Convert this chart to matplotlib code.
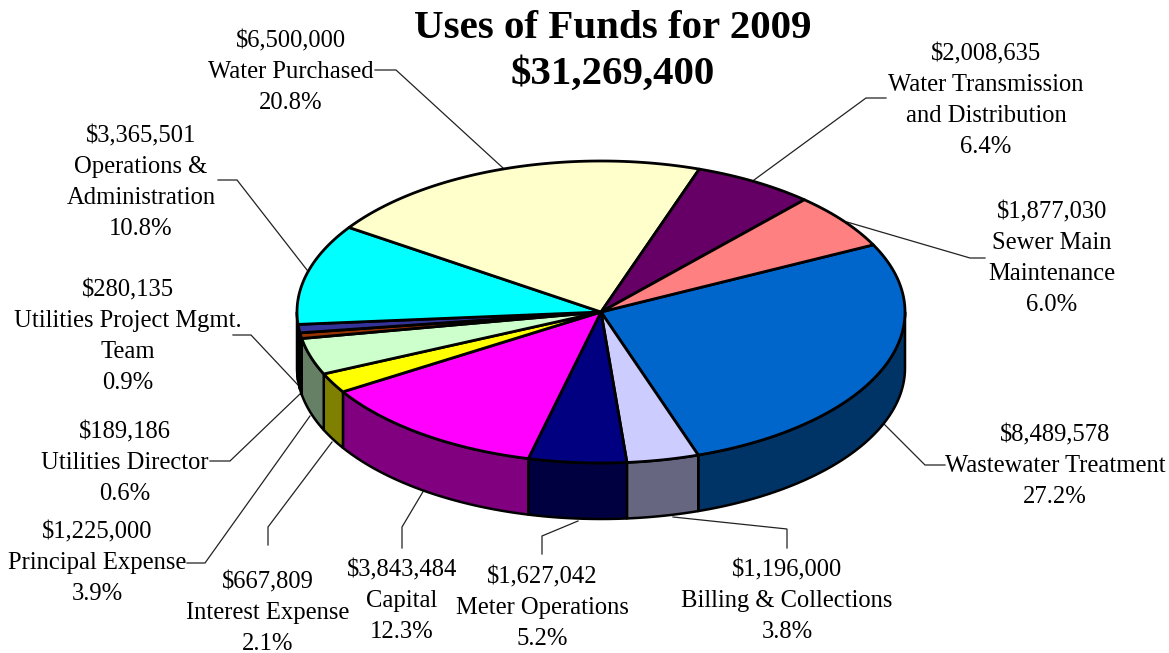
import numpy as np
import matplotlib
matplotlib.use('Agg')
import matplotlib.pyplot as plt
from matplotlib.patches import Polygon

plt.rcParams['font.family'] = ['Liberation Serif', 'DejaVu Serif']

# clockwise from the sewer / wastewater boundary
names = [
    ['Wastewater Treatment'],
    ['Billing & Collections'],
    ['Meter Operations'],
    ['Capital'],
    ['Interest Expense'],
    ['Principal Expense'],
    ['Utilities Director'],
    ['Utilities Project Mgmt.', 'Team'],
    ['Operations &', 'Administration'],
    ['Water Purchased'],
    ['Water Transmission', 'and Distribution'],
    ['Sewer Main', 'Maintenance'],
]
amounts = [8489578, 1196000, 1627042, 3843484, 667809, 1225000,
           189186, 280135, 3365501, 6500000, 2008635, 1877030]
percents = ['27.2%', '3.8%', '5.2%', '12.3%', '2.1%', '3.9%',
            '0.6%', '0.9%', '10.8%', '20.8%', '6.4%', '6.0%']
top_colors = ['#0066CC', '#CCCCFF', '#000080', '#FF00FF', '#FFFF00', '#CCFFCC',
              '#993300', '#333399', '#00FFFF', '#FFFFCC', '#660066', '#FF8080']
side_colors = ['#003366', '#666680', '#000040', '#800080', '#808000', '#668066',
               '#4D1A00', '#1A1A4D', '#008080', '#808066', '#330033', '#804040']

title_lines = ['Uses of Funds for 2009', '$31,269,400']

# pie geometry, in figure pixels
cx, cy = 601, 312
rx, ry = 304, 151
depth = 56
start_angle = 26.4

# label centre x and y of the first line
label_pos = [(1055, 435), (787, 570), (542, 577), (402, 570), (268, 582), (97, 532),
             (125, 432), (128, 290), (141, 136), (291, 41), (986, 54), (1052, 212)]

leaders = [
    [(883, 423), (925, 465), (945, 465)],
    [(673, 517), (787, 529), (787, 548)],
    [(578, 521), (542, 536), (542, 554)],
    [(424, 490), (402, 527), (402, 548)],
    [(332, 442), (268, 527), (268, 545)],
    [(310, 416), (205, 563), (187, 563)],
    [(301, 393), (230, 461), (210, 461)],
    [(298, 385), (251, 335), (233, 335)],
    [(307, 270), (237, 180), (218, 180)],
    [(503, 168), (396, 70), (375, 70)],
    [(754, 180), (866, 98), (886, 98)],
    [(847, 222), (970, 258), (985, 258)],
]


def rim(t1, t2, drop=0):
    # points on the ellipse between two angles, in degrees
    t = np.radians(np.linspace(t1, t2, max(int(abs(t1 - t2) * 2), 2)))
    return np.column_stack([cx + rx * np.cos(t), cy + ry * np.sin(-t) + drop])


fig = plt.figure(figsize=(11.69, 6.53), dpi=100)
ax = fig.add_axes([0, 0, 1, 1])
ax.set_xlim(0, 1169)
ax.set_ylim(653, 0)
ax.axis('off')

sweeps = np.array(amounts) / sum(amounts) * 360
ends = start_angle - np.cumsum(sweeps)
starts = ends + sweeps

# outer wall, only the front half of the ellipse shows
for a, b, col in zip(starts, ends, side_colors):
    a2 = min(a, 0)
    b2 = max(b, -180)
    if a2 <= b2:
        continue
    pts = np.vstack([rim(a2, b2), rim(b2, a2, depth)])
    ax.add_patch(Polygon(pts, closed=True, fc=col, ec='black', lw=1.8, joinstyle='round', zorder=2))

# top face
for a, b, col in zip(starts, ends, top_colors):
    pts = np.vstack([[cx, cy], rim(a, b)])
    ax.add_patch(Polygon(pts, closed=True, fc=col, ec='black', lw=2.0, joinstyle='round', zorder=3))

for path in leaders:
    xs, ys = zip(*path)
    ax.plot(xs, ys, color='#222222', lw=0.9, zorder=1, solid_joinstyle='miter')

for name, amt, pct, (x, y) in zip(names, amounts, percents, label_pos):
    lines = [f'${amt:,}'] + name + [pct]
    for i, s in enumerate(lines):
        ax.text(x, y + i * 31, s, ha='center', va='center', fontsize=17.7, color='black', zorder=5)

ax.text(613, 28, title_lines[0], ha='center', va='center', fontsize=29.5, fontweight='bold', zorder=5)
ax.text(613, 74, title_lines[1], ha='center', va='center', fontsize=29.5, fontweight='bold', zorder=5)

fig.savefig('out.png', dpi=100)
